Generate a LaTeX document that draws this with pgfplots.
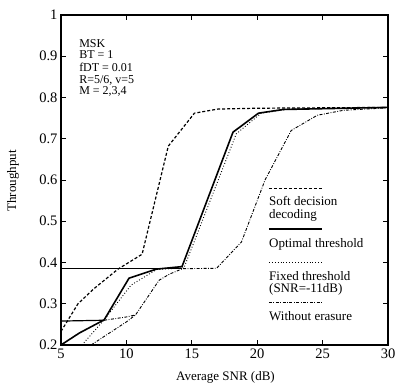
\documentclass[border=0pt]{standalone}
\usepackage{pgfplots}
\pgfplotsset{compat=1.18}
\usepackage{fontspec}
\setmainfont{Liberation Serif}
\begin{document}
\begin{tikzpicture}[x=1pt,y=1pt]
\useasboundingbox (0,0) rectangle (397,391);
\begin{axis}[
  at={(61pt,46pt)}, anchor=south west,
  scale only axis, width=327pt, height=330pt,
  xmin=5, xmax=30, ymin=0.2, ymax=1,
  xtick={5,10,15,20,25,30},
  ytick={0.2,0.3,0.4,0.5,0.6,0.7,0.8,0.9,1},
  tick align=inside,
  major tick length=5pt,
  every tick/.style={line width=0.9pt,black},
  axis line style={line width=1.2pt},
  /pgf/number format/assume math mode=true,
  ticklabel style={font=\fontsize{14.5}{15}\selectfont},
  xlabel={Average SNR (dB)}, ylabel={Throughput},
  label style={font=\fontsize{13}{14}\selectfont},
  xlabel style={at={(axis description cs:0.503,-0.097)}, anchor=center},
  ylabel style={at={(axis description cs:-0.147,0.497)}, anchor=center, rotate=0},
  clip=false,
]
% Soft decision decoding
\addplot[black, line width=1.2pt, dash pattern=on 3pt off 2pt] coordinates {
(5,0.233)(6.3,0.30)(7.5,0.336)(9.36,0.384)(11.2,0.42)(13.2,0.682)(15.2,0.762)(17,0.772)(20,0.774)(30,0.776)};
% Optimal threshold
\addplot[black, line width=1.6pt] coordinates {
(5,0.2)(6.4,0.229)(8.3,0.261)(10.2,0.362)(12.3,0.384)(14.25,0.39)(18.15,0.716)(20.1,0.762)(22,0.771)(30,0.776)};
\addplot[black, line width=0.9pt] coordinates {(5,0.385)(14.25,0.385)};
\addplot[black, line width=1.2pt] coordinates {(5,0.258)(8.3,0.260)};
% Fixed threshold
\addplot[black, line width=0.9pt, dotted] coordinates {
(6.6,0.2)(8.3,0.261)(10.35,0.345)(12.3,0.383)(14.4,0.387)(18.4,0.712)(20.3,0.762)(22.5,0.772)(30,0.776)};
% Without erasure
\addplot[black, line width=0.9pt, dash pattern=on 3pt off 1.5pt on 0.8pt off 1.5pt] coordinates {
(7.3,0.2)(10.0,0.256)(10.7,0.273)(12.5,0.357)(13.3,0.372)(14.3,0.385)(16.9,0.386)(18.8,0.45)(20.6,0.6)(22.6,0.72)(24.6,0.757)(26.6,0.769)(30,0.775)};
\addplot[black, line width=0.9pt, dash pattern=on 3pt off 1.5pt on 0.8pt off 1.5pt] coordinates {(8.3,0.26)(10.0,0.268)(10.7,0.273)};
% corner text
\begin{scope}[font=\fontsize{12}{12}\selectfont]
\node[anchor=base west, inner sep=0pt] at (axis cs:6.38,0.9215) {MSK};
\node[anchor=base west, inner sep=0pt] at (axis cs:6.38,0.895) {BT = 1};
\node[anchor=base west, inner sep=0pt] at (axis cs:6.38,0.864) {fDT = 0.01};
\node[anchor=base west, inner sep=0pt] at (axis cs:6.38,0.834) {R=5/6, v=5};
\node[anchor=base west, inner sep=0pt] at (axis cs:6.38,0.808) {M = 2,3,4};
\end{scope}
% legend
\draw[black, line width=1.2pt, dash pattern=on 3pt off 2pt] (axis cs:20.9,0.580) -- (axis cs:24.95,0.580);
\draw[black, line width=1.6pt] (axis cs:20.9,0.481) -- (axis cs:24.95,0.481);
\draw[black, line width=0.9pt, dotted] (axis cs:20.9,0.401) -- (axis cs:24.95,0.401);
\draw[black, line width=0.9pt, dash pattern=on 3pt off 1.5pt on 0.8pt off 1.5pt] (axis cs:20.9,0.302) -- (axis cs:24.95,0.302);
\begin{scope}[font=\fontsize{13}{14}\selectfont]
\node[anchor=base west, inner sep=0pt] at (axis cs:20.9,0.539) {Soft decision};
\node[anchor=base west, inner sep=0pt] at (axis cs:20.9,0.5075) {decoding};
\node[anchor=base west, inner sep=0pt] at (axis cs:20.9,0.437) {Optimal threshold};
\node[anchor=base west, inner sep=0pt] at (axis cs:20.9,0.357) {Fixed threshold};
\node[anchor=base west, inner sep=0pt] at (axis cs:20.9,0.328) {(SNR=-11dB)};
\node[anchor=base west, inner sep=0pt] at (axis cs:20.9,0.2605) {Without erasure};
\end{scope}
\end{axis}
\end{tikzpicture}
\end{document}
